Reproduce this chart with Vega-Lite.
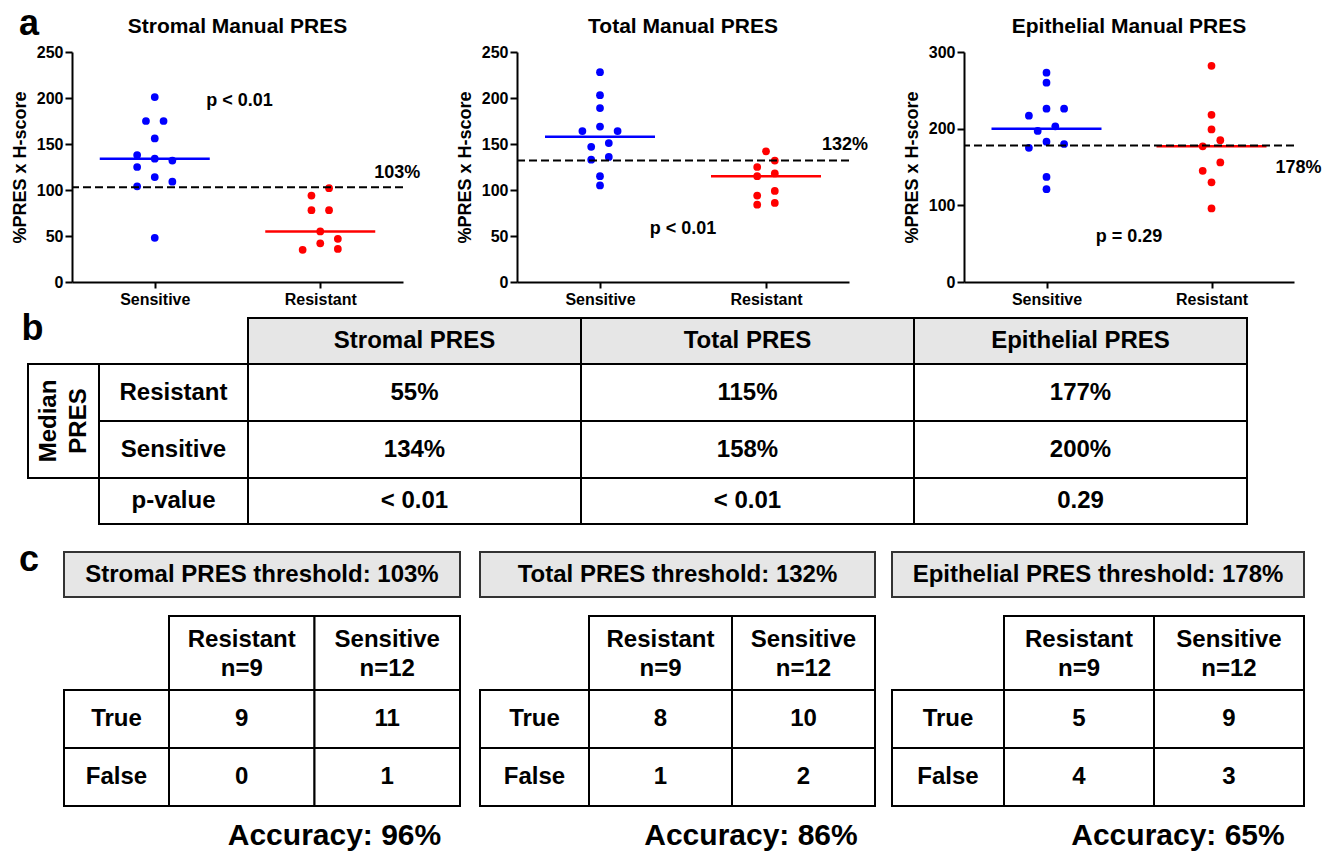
{
"$schema": "https://vega.github.io/schema/vega-lite/v6.json",
"padding": {"left": 11, "top": 6, "right": 0, "bottom": 0},
"config": {
  "font": "Liberation Sans",
  "view": {"stroke": null},
  "axis": {"grid": false, "domainColor": "black", "domainWidth": 2, "tickColor": "black", "tickWidth": 2, "labelColor": "black", "labelFontWeight": "bold", "labelFontSize": 16, "titleColor": "black", "titleFontWeight": "bold", "titleFontSize": 18, "labelFont": "Liberation Sans", "titleFont": "Liberation Sans"},
  "axisY": {"tickSize": 7, "labelPadding": 2, "titlePadding": 7},
  "axisX": {"tickSize": 6, "labelPadding": 3, "labelAngle": 0},
  "text": {"fontWeight": "bold", "color": "black", "font": "Liberation Sans"},
  "rect": {"width": {"band": 1}, "height": {"band": 1}}
},
"resolve": {"scale": {"xOffset": "independent"}},
"datasets": {
  "dots": [
    {"panel":"Stromal","group":"Sensitive","value":201,"lane":0},
    {"panel":"Stromal","group":"Sensitive","value":175,"lane":-1},
    {"panel":"Stromal","group":"Sensitive","value":175,"lane":1},
    {"panel":"Stromal","group":"Sensitive","value":156,"lane":0},
    {"panel":"Stromal","group":"Sensitive","value":138,"lane":-2},
    {"panel":"Stromal","group":"Sensitive","value":134,"lane":0},
    {"panel":"Stromal","group":"Sensitive","value":132,"lane":2},
    {"panel":"Stromal","group":"Sensitive","value":125,"lane":-2},
    {"panel":"Stromal","group":"Sensitive","value":114,"lane":0},
    {"panel":"Stromal","group":"Sensitive","value":109,"lane":2},
    {"panel":"Stromal","group":"Sensitive","value":104,"lane":-2},
    {"panel":"Stromal","group":"Sensitive","value":48,"lane":0},
    {"panel":"Stromal","group":"Resistant","value":102,"lane":1},
    {"panel":"Stromal","group":"Resistant","value":94,"lane":-1},
    {"panel":"Stromal","group":"Resistant","value":78,"lane":-1},
    {"panel":"Stromal","group":"Resistant","value":78,"lane":1},
    {"panel":"Stromal","group":"Resistant","value":55,"lane":0},
    {"panel":"Stromal","group":"Resistant","value":47,"lane":2},
    {"panel":"Stromal","group":"Resistant","value":42,"lane":0},
    {"panel":"Stromal","group":"Resistant","value":35,"lane":-2},
    {"panel":"Stromal","group":"Resistant","value":36,"lane":2},
    {"panel":"Total","group":"Sensitive","value":228,"lane":0},
    {"panel":"Total","group":"Sensitive","value":203,"lane":0},
    {"panel":"Total","group":"Sensitive","value":189,"lane":0},
    {"panel":"Total","group":"Sensitive","value":169,"lane":0},
    {"panel":"Total","group":"Sensitive","value":164,"lane":-2},
    {"panel":"Total","group":"Sensitive","value":164,"lane":2},
    {"panel":"Total","group":"Sensitive","value":151,"lane":1},
    {"panel":"Total","group":"Sensitive","value":147,"lane":-1},
    {"panel":"Total","group":"Sensitive","value":136,"lane":1},
    {"panel":"Total","group":"Sensitive","value":133,"lane":-1},
    {"panel":"Total","group":"Sensitive","value":115,"lane":0},
    {"panel":"Total","group":"Sensitive","value":105,"lane":0},
    {"panel":"Total","group":"Resistant","value":142,"lane":0},
    {"panel":"Total","group":"Resistant","value":132,"lane":1},
    {"panel":"Total","group":"Resistant","value":125,"lane":-1},
    {"panel":"Total","group":"Resistant","value":118,"lane":1},
    {"panel":"Total","group":"Resistant","value":115,"lane":-1},
    {"panel":"Total","group":"Resistant","value":99,"lane":1},
    {"panel":"Total","group":"Resistant","value":94,"lane":-1},
    {"panel":"Total","group":"Resistant","value":86,"lane":1},
    {"panel":"Total","group":"Resistant","value":84,"lane":-1},
    {"panel":"Epithelial","group":"Sensitive","value":273,"lane":0},
    {"panel":"Epithelial","group":"Sensitive","value":260,"lane":0},
    {"panel":"Epithelial","group":"Sensitive","value":226,"lane":0},
    {"panel":"Epithelial","group":"Sensitive","value":226,"lane":2},
    {"panel":"Epithelial","group":"Sensitive","value":217,"lane":-2},
    {"panel":"Epithelial","group":"Sensitive","value":203,"lane":1},
    {"panel":"Epithelial","group":"Sensitive","value":197,"lane":-1},
    {"panel":"Epithelial","group":"Sensitive","value":183,"lane":0},
    {"panel":"Epithelial","group":"Sensitive","value":180,"lane":2},
    {"panel":"Epithelial","group":"Sensitive","value":175,"lane":-2},
    {"panel":"Epithelial","group":"Sensitive","value":137,"lane":0},
    {"panel":"Epithelial","group":"Sensitive","value":121,"lane":0},
    {"panel":"Epithelial","group":"Resistant","value":282,"lane":0},
    {"panel":"Epithelial","group":"Resistant","value":218,"lane":0},
    {"panel":"Epithelial","group":"Resistant","value":199,"lane":0},
    {"panel":"Epithelial","group":"Resistant","value":185,"lane":1},
    {"panel":"Epithelial","group":"Resistant","value":177,"lane":-1},
    {"panel":"Epithelial","group":"Resistant","value":156,"lane":1},
    {"panel":"Epithelial","group":"Resistant","value":145,"lane":-1},
    {"panel":"Epithelial","group":"Resistant","value":130,"lane":0},
    {"panel":"Epithelial","group":"Resistant","value":96,"lane":0}
  ],
  "medians": [
    {"panel":"Stromal","group":"Sensitive","value":134},
    {"panel":"Stromal","group":"Resistant","value":55},
    {"panel":"Total","group":"Sensitive","value":158},
    {"panel":"Total","group":"Resistant","value":115},
    {"panel":"Epithelial","group":"Sensitive","value":200},
    {"panel":"Epithelial","group":"Resistant","value":177}
  ],
  "thresholds": [
    {"panel":"Stromal","value":103,"label":"103%"},
    {"panel":"Total","value":132,"label":"132%"},
    {"panel":"Epithelial","value":178,"label":"178%"}
  ],
  "pvalues": [
    {"panel":"Stromal","label":"p < 0.01"},
    {"panel":"Total","label":"p < 0.01"},
    {"panel":"Epithelial","label":"p = 0.29"}
  ]
},
"spacing": 0,
"bounds": "flush",
"vconcat": [
  {"hconcat": [
    {"width":18,"height":39,"data":{"values":[{"t":"a"}]},"mark":{"type":"text","fontSize":36,"baseline":"alphabetic","dy":2.5},"encoding":{"text":{"field":"t"}}},
    {"width":34,"height":39,"data":{"values":[]},"mark":"point"},
    {"width":331,"height":39,"data":{"values":[{"t":"Stromal Manual PRES"}]},"mark":{"type":"text","fontSize":21,"baseline":"alphabetic"},"encoding":{"text":{"field":"t"}}},
    {"width":114,"height":39,"data":{"values":[]},"mark":"point"},
    {"width":332,"height":39,"data":{"values":[{"t":"Total Manual PRES"}]},"mark":{"type":"text","fontSize":21,"baseline":"alphabetic"},"encoding":{"text":{"field":"t"}}},
    {"width":115,"height":39,"data":{"values":[]},"mark":"point"},
    {"width":330,"height":39,"data":{"values":[{"t":"Epithelial Manual PRES"}]},"mark":{"type":"text","fontSize":21,"baseline":"alphabetic"},"encoding":{"text":{"field":"t"}}}
  ], "spacing": 0, "bounds": "flush"},
  {"width":1,"height":39,"data":{"values":[]},"mark":"point"},

  {"hconcat": [
    {"width":52,"height":230,"data":{"values":[]},"mark":"point"},
    {"width":331,"height":230,
     "layer":[
      {"data":{"name":"dots"},"transform":[{"filter":"datum.panel === 'Stromal'"}],
       "mark":{"type":"circle","size":60,"opacity":1},
       "encoding":{
        "x":{"field":"group","type":"nominal","scale":{"type":"point","domain":["Sensitive","Resistant"],"padding":0.5},"axis":{"title":null,"labelAngle":0}},
        "xOffset":{"field":"lane","type":"quantitative","scale":{"domain":[-2,2],"range":[-17.6,17.6]}},
        "y":{"field":"value","type":"quantitative","scale":{"domain":[0,250],"nice":false},"axis":{"title":"%PRES x H-score","values":[0,50,100,150,200,250]}},
        "color":{"field":"group","type":"nominal","scale":{"domain":["Sensitive","Resistant"],"range":["#0000ff","#ff0000"]},"legend":null}}},
      {"data":{"name":"medians"},"transform":[{"filter":"datum.panel === 'Stromal'"}],
       "mark":{"type":"tick","size":110,"thickness":2.5,"opacity":1},
       "encoding":{"x":{"field":"group","type":"nominal"},"y":{"field":"value","type":"quantitative"},"color":{"field":"group","type":"nominal","legend":null}}},
      {"data":{"name":"thresholds"},"transform":[{"filter":"datum.panel === 'Stromal'"}],
       "mark":{"type":"rule","strokeDash":[8,4],"strokeWidth":2,"color":"black"},
       "encoding":{"y":{"field":"value","type":"quantitative"}}},
      {"data":{"name":"thresholds"},"transform":[{"filter":"datum.panel === 'Stromal'"}],
       "mark":{"type":"text","fontSize":18,"baseline":"alphabetic","dx":77,"dy":-9},
       "encoding":{"x":{"datum":"Resistant","type":"nominal"},"y":{"field":"value","type":"quantitative"},"text":{"field":"label"}}},
      {"data":{"name":"pvalues"},"transform":[{"filter":"datum.panel === 'Stromal'"}],
       "mark":{"type":"text","fontSize":18,"baseline":"alphabetic","dx":2},
       "encoding":{"y":{"datum":191,"type":"quantitative"},"text":{"field":"label"}}}
     ]},
    {"width":114,"height":230,"data":{"values":[]},"mark":"point"},
    {"width":332,"height":230,
     "layer":[
      {"data":{"name":"dots"},"transform":[{"filter":"datum.panel === 'Total'"}],
       "mark":{"type":"circle","size":60,"opacity":1},
       "encoding":{
        "x":{"field":"group","type":"nominal","scale":{"type":"point","domain":["Sensitive","Resistant"],"padding":0.5},"axis":{"title":null,"labelAngle":0}},
        "xOffset":{"field":"lane","type":"quantitative","scale":{"domain":[-2,2],"range":[-17.6,17.6]}},
        "y":{"field":"value","type":"quantitative","scale":{"domain":[0,250],"nice":false},"axis":{"title":"%PRES x H-score","values":[0,50,100,150,200,250]}},
        "color":{"field":"group","type":"nominal","scale":{"domain":["Sensitive","Resistant"],"range":["#0000ff","#ff0000"]},"legend":null}}},
      {"data":{"name":"medians"},"transform":[{"filter":"datum.panel === 'Total'"}],
       "mark":{"type":"tick","size":110,"thickness":2.5,"opacity":1},
       "encoding":{"x":{"field":"group","type":"nominal"},"y":{"field":"value","type":"quantitative"},"color":{"field":"group","type":"nominal","legend":null}}},
      {"data":{"name":"thresholds"},"transform":[{"filter":"datum.panel === 'Total'"}],
       "mark":{"type":"rule","strokeDash":[8,4],"strokeWidth":2,"color":"black"},
       "encoding":{"y":{"field":"value","type":"quantitative"}}},
      {"data":{"name":"thresholds"},"transform":[{"filter":"datum.panel === 'Total'"}],
       "mark":{"type":"text","fontSize":18,"baseline":"alphabetic","dx":79,"dy":-11},
       "encoding":{"x":{"datum":"Resistant","type":"nominal"},"y":{"field":"value","type":"quantitative"},"text":{"field":"label"}}},
      {"data":{"name":"pvalues"},"transform":[{"filter":"datum.panel === 'Total'"}],
       "mark":{"type":"text","fontSize":18,"baseline":"alphabetic"},
       "encoding":{"y":{"datum":52,"type":"quantitative"},"text":{"field":"label"}}}
     ]},
    {"width":115,"height":230,"data":{"values":[]},"mark":"point"},
    {"width":330,"height":230,
     "layer":[
      {"data":{"name":"dots"},"transform":[{"filter":"datum.panel === 'Epithelial'"}],
       "mark":{"type":"circle","size":60,"opacity":1},
       "encoding":{
        "x":{"field":"group","type":"nominal","scale":{"type":"point","domain":["Sensitive","Resistant"],"padding":0.5},"axis":{"title":null,"labelAngle":0}},
        "xOffset":{"field":"lane","type":"quantitative","scale":{"domain":[-2,2],"range":[-17.6,17.6]}},
        "y":{"field":"value","type":"quantitative","scale":{"domain":[0,300],"nice":false},"axis":{"title":"%PRES x H-score","values":[0,100,200,300]}},
        "color":{"field":"group","type":"nominal","scale":{"domain":["Sensitive","Resistant"],"range":["#0000ff","#ff0000"]},"legend":null}}},
      {"data":{"name":"medians"},"transform":[{"filter":"datum.panel === 'Epithelial'"}],
       "mark":{"type":"tick","size":110,"thickness":2.5,"opacity":1},
       "encoding":{"x":{"field":"group","type":"nominal"},"y":{"field":"value","type":"quantitative"},"color":{"field":"group","type":"nominal","legend":null}}},
      {"data":{"name":"thresholds"},"transform":[{"filter":"datum.panel === 'Epithelial'"}],
       "mark":{"type":"rule","strokeDash":[8,4],"strokeWidth":2,"color":"black"},
       "encoding":{"y":{"field":"value","type":"quantitative"}}},
      {"data":{"name":"thresholds"},"transform":[{"filter":"datum.panel === 'Epithelial'"}],
       "mark":{"type":"text","fontSize":18,"baseline":"alphabetic","dx":87,"dy":27},
       "encoding":{"x":{"datum":"Resistant","type":"nominal"},"y":{"field":"value","type":"quantitative"},"text":{"field":"label"}}},
      {"data":{"name":"pvalues"},"transform":[{"filter":"datum.panel === 'Epithelial'"}],
       "mark":{"type":"text","fontSize":18,"baseline":"alphabetic"},
       "encoding":{"y":{"datum":52,"type":"quantitative"},"text":{"field":"label"}}}
     ]}
  ], "spacing": 0, "bounds": "flush"},
  {"width":1,"height":266,"data":{"values":[]},"mark":"point"},

  {"hconcat": [
    {"width":25,"height":46,"data":{"values":[{"t":"b"}]},"mark":{"type":"text","fontSize":36,"baseline":"alphabetic","dy":-1},"encoding":{"text":{"field":"t"}}},
    {"width":203,"height":46,"data":{"values":[]},"mark":"point"},
    {"width":999,"height":46,
     "data":{"values":[{"row":"h","col":"Stromal PRES","text":"Stromal PRES"},{"row":"h","col":"Total PRES","text":"Total PRES"},{"row":"h","col":"Epithelial PRES","text":"Epithelial PRES"}]},
     "encoding":{"x":{"field":"col","type":"nominal","axis":null,"sort":null,"scale":{"type":"band","paddingInner":0,"paddingOuter":0}},"y":{"field":"row","type":"nominal","axis":null,"sort":null,"scale":{"type":"band","paddingInner":0,"paddingOuter":0}}},
     "layer":[{"mark":{"type":"rect","fill":"#e6e6e6","stroke":"black","strokeWidth":2}},{"mark":{"type":"text","fontSize":24},"encoding":{"text":{"field":"text"}}}]}
  ], "spacing": 0, "bounds": "flush"},
  {"width":1,"height":46,"data":{"values":[]},"mark":"point"},

  {"hconcat": [
    {"width":8,"height":114,"data":{"values":[]},"mark":"point"},
    {"width":71,"height":114,
     "data":{"values":[{"row":"m","col":"m","text":"Median\nPRES"}]},
     "encoding":{"x":{"field":"col","type":"nominal","axis":null,"sort":null,"scale":{"type":"band","paddingInner":0,"paddingOuter":0}},"y":{"field":"row","type":"nominal","axis":null,"sort":null,"scale":{"type":"band","paddingInner":0,"paddingOuter":0}}},
     "layer":[{"mark":{"type":"rect","fill":"white","stroke":"black","strokeWidth":2}},{"mark":{"type":"text","fontSize":24,"angle":270,"lineBreak":"\n","lineHeight":30,"dy":-15},"encoding":{"text":{"field":"text"}}}]},
    {"width":149,"height":114,
     "data":{"values":[{"row":"Resistant","col":"l","text":"Resistant"},{"row":"Sensitive","col":"l","text":"Sensitive"}]},
     "encoding":{"x":{"field":"col","type":"nominal","axis":null,"sort":null,"scale":{"type":"band","paddingInner":0,"paddingOuter":0}},"y":{"field":"row","type":"nominal","axis":null,"sort":null,"scale":{"type":"band","paddingInner":0,"paddingOuter":0}}},
     "layer":[{"mark":{"type":"rect","fill":"white","stroke":"black","strokeWidth":2}},{"mark":{"type":"text","fontSize":24},"encoding":{"text":{"field":"text"}}}]},
    {"width":999,"height":114,
     "data":{"values":[{"row":"Resistant","col":"Stromal PRES","text":"55%"},{"row":"Resistant","col":"Total PRES","text":"115%"},{"row":"Resistant","col":"Epithelial PRES","text":"177%"},{"row":"Sensitive","col":"Stromal PRES","text":"134%"},{"row":"Sensitive","col":"Total PRES","text":"158%"},{"row":"Sensitive","col":"Epithelial PRES","text":"200%"}]},
     "encoding":{"x":{"field":"col","type":"nominal","axis":null,"sort":null,"scale":{"type":"band","paddingInner":0,"paddingOuter":0}},"y":{"field":"row","type":"nominal","axis":null,"sort":null,"scale":{"type":"band","paddingInner":0,"paddingOuter":0}}},
     "layer":[{"mark":{"type":"rect","fill":"white","stroke":"black","strokeWidth":2}},{"mark":{"type":"text","fontSize":24},"encoding":{"text":{"field":"text"}}}]}
  ], "spacing": 0, "bounds": "flush"},
  {"width":1,"height":114,"data":{"values":[]},"mark":"point"},

  {"hconcat": [
    {"width":79,"height":46,"data":{"values":[]},"mark":"point"},
    {"width":149,"height":46,
     "data":{"values":[{"row":"p","col":"l","text":"p-value"}]},
     "encoding":{"x":{"field":"col","type":"nominal","axis":null,"sort":null,"scale":{"type":"band","paddingInner":0,"paddingOuter":0}},"y":{"field":"row","type":"nominal","axis":null,"sort":null,"scale":{"type":"band","paddingInner":0,"paddingOuter":0}}},
     "layer":[{"mark":{"type":"rect","fill":"white","stroke":"black","strokeWidth":2}},{"mark":{"type":"text","fontSize":24},"encoding":{"text":{"field":"text"}}}]},
    {"width":999,"height":46,
     "data":{"values":[{"row":"p","col":"Stromal PRES","text":"< 0.01"},{"row":"p","col":"Total PRES","text":"< 0.01"},{"row":"p","col":"Epithelial PRES","text":"0.29"}]},
     "encoding":{"x":{"field":"col","type":"nominal","axis":null,"sort":null,"scale":{"type":"band","paddingInner":0,"paddingOuter":0}},"y":{"field":"row","type":"nominal","axis":null,"sort":null,"scale":{"type":"band","paddingInner":0,"paddingOuter":0}}},
     "layer":[{"mark":{"type":"rect","fill":"white","stroke":"black","strokeWidth":2}},{"mark":{"type":"text","fontSize":24},"encoding":{"text":{"field":"text"}}}]}
  ], "spacing": 0, "bounds": "flush"},
  {"width":1,"height":74,"data":{"values":[]},"mark":"point"},

  {"hconcat": [
    {"width":18,"height":45,"data":{"values":[{"t":"c"}]},"mark":{"type":"text","fontSize":36,"baseline":"alphabetic","dy":-3.5},"encoding":{"text":{"field":"t"}}},
    {"width":26,"height":45,"data":{"values":[]},"mark":"point"},
    {"width":396,"height":45,
     "data":{"values":[{"row":"t","col":"t","text":"Stromal PRES threshold: 103%"}]},
     "encoding":{"x":{"field":"col","type":"nominal","axis":null,"sort":null,"scale":{"type":"band","paddingInner":0,"paddingOuter":0}},"y":{"field":"row","type":"nominal","axis":null,"sort":null,"scale":{"type":"band","paddingInner":0,"paddingOuter":0}}},
     "layer":[{"mark":{"type":"rect","fill":"#e6e6e6","stroke":"#333333","strokeWidth":2}},{"mark":{"type":"text","fontSize":24},"encoding":{"text":{"field":"text"}}}]},
    {"width":20,"height":45,"data":{"values":[]},"mark":"point"},
    {"width":395,"height":45,
     "data":{"values":[{"row":"t","col":"t","text":"Total PRES threshold: 132%"}]},
     "encoding":{"x":{"field":"col","type":"nominal","axis":null,"sort":null,"scale":{"type":"band","paddingInner":0,"paddingOuter":0}},"y":{"field":"row","type":"nominal","axis":null,"sort":null,"scale":{"type":"band","paddingInner":0,"paddingOuter":0}}},
     "layer":[{"mark":{"type":"rect","fill":"#e6e6e6","stroke":"#333333","strokeWidth":2}},{"mark":{"type":"text","fontSize":24},"encoding":{"text":{"field":"text"}}}]},
    {"width":17,"height":45,"data":{"values":[]},"mark":"point"},
    {"width":412,"height":45,
     "data":{"values":[{"row":"t","col":"t","text":"Epithelial PRES threshold: 178%"}]},
     "encoding":{"x":{"field":"col","type":"nominal","axis":null,"sort":null,"scale":{"type":"band","paddingInner":0,"paddingOuter":0}},"y":{"field":"row","type":"nominal","axis":null,"sort":null,"scale":{"type":"band","paddingInner":0,"paddingOuter":0}}},
     "layer":[{"mark":{"type":"rect","fill":"#e6e6e6","stroke":"#333333","strokeWidth":2}},{"mark":{"type":"text","fontSize":24},"encoding":{"text":{"field":"text"}}}]}
  ], "spacing": 0, "bounds": "flush"},
  {"width":1,"height":64,"data":{"values":[]},"mark":"point"},

  {"hconcat": [
    {"width":149,"height":74,"data":{"values":[]},"mark":"point"},
    {"width":291,"height":74,
     "data":{"values":[{"row":"h","col":"Resistant","text":"Resistant\nn=9"},{"row":"h","col":"Sensitive","text":"Sensitive\nn=12"}]},
     "encoding":{"x":{"field":"col","type":"nominal","axis":null,"sort":null,"scale":{"type":"band","paddingInner":0,"paddingOuter":0}},"y":{"field":"row","type":"nominal","axis":null,"sort":null,"scale":{"type":"band","paddingInner":0,"paddingOuter":0}}},
     "layer":[{"mark":{"type":"rect","fill":"white","stroke":"black","strokeWidth":2}},{"mark":{"type":"text","fontSize":24,"lineBreak":"\n","lineHeight":29,"dy":-13},"encoding":{"text":{"field":"text"}}}]},
    {"width":129,"height":74,"data":{"values":[]},"mark":"point"},
    {"width":286,"height":74,
     "data":{"values":[{"row":"h","col":"Resistant","text":"Resistant\nn=9"},{"row":"h","col":"Sensitive","text":"Sensitive\nn=12"}]},
     "encoding":{"x":{"field":"col","type":"nominal","axis":null,"sort":null,"scale":{"type":"band","paddingInner":0,"paddingOuter":0}},"y":{"field":"row","type":"nominal","axis":null,"sort":null,"scale":{"type":"band","paddingInner":0,"paddingOuter":0}}},
     "layer":[{"mark":{"type":"rect","fill":"white","stroke":"black","strokeWidth":2}},{"mark":{"type":"text","fontSize":24,"lineBreak":"\n","lineHeight":29,"dy":-13},"encoding":{"text":{"field":"text"}}}]},
    {"width":129,"height":74,"data":{"values":[]},"mark":"point"},
    {"width":300,"height":74,
     "data":{"values":[{"row":"h","col":"Resistant","text":"Resistant\nn=9"},{"row":"h","col":"Sensitive","text":"Sensitive\nn=12"}]},
     "encoding":{"x":{"field":"col","type":"nominal","axis":null,"sort":null,"scale":{"type":"band","paddingInner":0,"paddingOuter":0}},"y":{"field":"row","type":"nominal","axis":null,"sort":null,"scale":{"type":"band","paddingInner":0,"paddingOuter":0}}},
     "layer":[{"mark":{"type":"rect","fill":"white","stroke":"black","strokeWidth":2}},{"mark":{"type":"text","fontSize":24,"lineBreak":"\n","lineHeight":29,"dy":-13},"encoding":{"text":{"field":"text"}}}]}
  ], "spacing": 0, "bounds": "flush"},
  {"width":1,"height":74,"data":{"values":[]},"mark":"point"},

  {"hconcat": [
    {"width":44,"height":116,"data":{"values":[]},"mark":"point"},
    {"width":105,"height":116,
     "data":{"values":[{"row":"True","col":"l","text":"True"},{"row":"False","col":"l","text":"False"}]},
     "encoding":{"x":{"field":"col","type":"nominal","axis":null,"sort":null,"scale":{"type":"band","paddingInner":0,"paddingOuter":0}},"y":{"field":"row","type":"nominal","axis":null,"sort":null,"scale":{"type":"band","paddingInner":0,"paddingOuter":0}}},
     "layer":[{"mark":{"type":"rect","fill":"white","stroke":"black","strokeWidth":2}},{"mark":{"type":"text","fontSize":24},"encoding":{"text":{"field":"text"}}}]},
    {"width":291,"height":116,
     "data":{"values":[{"row":"True","col":"Resistant","text":"9"},{"row":"True","col":"Sensitive","text":"11"},{"row":"False","col":"Resistant","text":"0"},{"row":"False","col":"Sensitive","text":"1"}]},
     "encoding":{"x":{"field":"col","type":"nominal","axis":null,"sort":null,"scale":{"type":"band","paddingInner":0,"paddingOuter":0}},"y":{"field":"row","type":"nominal","axis":null,"sort":null,"scale":{"type":"band","paddingInner":0,"paddingOuter":0}}},
     "layer":[{"mark":{"type":"rect","fill":"white","stroke":"black","strokeWidth":2}},{"mark":{"type":"text","fontSize":24},"encoding":{"text":{"field":"text"}}}]},
    {"width":20,"height":116,"data":{"values":[]},"mark":"point"},
    {"width":109,"height":116,
     "data":{"values":[{"row":"True","col":"l","text":"True"},{"row":"False","col":"l","text":"False"}]},
     "encoding":{"x":{"field":"col","type":"nominal","axis":null,"sort":null,"scale":{"type":"band","paddingInner":0,"paddingOuter":0}},"y":{"field":"row","type":"nominal","axis":null,"sort":null,"scale":{"type":"band","paddingInner":0,"paddingOuter":0}}},
     "layer":[{"mark":{"type":"rect","fill":"white","stroke":"black","strokeWidth":2}},{"mark":{"type":"text","fontSize":24},"encoding":{"text":{"field":"text"}}}]},
    {"width":286,"height":116,
     "data":{"values":[{"row":"True","col":"Resistant","text":"8"},{"row":"True","col":"Sensitive","text":"10"},{"row":"False","col":"Resistant","text":"1"},{"row":"False","col":"Sensitive","text":"2"}]},
     "encoding":{"x":{"field":"col","type":"nominal","axis":null,"sort":null,"scale":{"type":"band","paddingInner":0,"paddingOuter":0}},"y":{"field":"row","type":"nominal","axis":null,"sort":null,"scale":{"type":"band","paddingInner":0,"paddingOuter":0}}},
     "layer":[{"mark":{"type":"rect","fill":"white","stroke":"black","strokeWidth":2}},{"mark":{"type":"text","fontSize":24},"encoding":{"text":{"field":"text"}}}]},
    {"width":17,"height":116,"data":{"values":[]},"mark":"point"},
    {"width":112,"height":116,
     "data":{"values":[{"row":"True","col":"l","text":"True"},{"row":"False","col":"l","text":"False"}]},
     "encoding":{"x":{"field":"col","type":"nominal","axis":null,"sort":null,"scale":{"type":"band","paddingInner":0,"paddingOuter":0}},"y":{"field":"row","type":"nominal","axis":null,"sort":null,"scale":{"type":"band","paddingInner":0,"paddingOuter":0}}},
     "layer":[{"mark":{"type":"rect","fill":"white","stroke":"black","strokeWidth":2}},{"mark":{"type":"text","fontSize":24},"encoding":{"text":{"field":"text"}}}]},
    {"width":300,"height":116,
     "data":{"values":[{"row":"True","col":"Resistant","text":"5"},{"row":"True","col":"Sensitive","text":"9"},{"row":"False","col":"Resistant","text":"4"},{"row":"False","col":"Sensitive","text":"3"}]},
     "encoding":{"x":{"field":"col","type":"nominal","axis":null,"sort":null,"scale":{"type":"band","paddingInner":0,"paddingOuter":0}},"y":{"field":"row","type":"nominal","axis":null,"sort":null,"scale":{"type":"band","paddingInner":0,"paddingOuter":0}}},
     "layer":[{"mark":{"type":"rect","fill":"white","stroke":"black","strokeWidth":2}},{"mark":{"type":"text","fontSize":24},"encoding":{"text":{"field":"text"}}}]}
  ], "spacing": 0, "bounds": "flush"},
  {"width":1,"height":116,"data":{"values":[]},"mark":"point"},

  {"hconcat": [
    {"width":149,"height":42,"data":{"values":[]},"mark":"point"},
    {"width":291,"height":42,"data":{"values":[{"t":"Accuracy: 96%"}]},"mark":{"type":"text","fontSize":30,"baseline":"alphabetic","dx":20,"dy":18},"encoding":{"text":{"field":"t"}}},
    {"width":129,"height":42,"data":{"values":[]},"mark":"point"},
    {"width":286,"height":42,"data":{"values":[{"t":"Accuracy: 86%"}]},"mark":{"type":"text","fontSize":30,"baseline":"alphabetic","dx":19,"dy":18},"encoding":{"text":{"field":"t"}}},
    {"width":129,"height":42,"data":{"values":[]},"mark":"point"},
    {"width":300,"height":42,"data":{"values":[{"t":"Accuracy: 65%"}]},"mark":{"type":"text","fontSize":30,"baseline":"alphabetic","dx":24,"dy":18},"encoding":{"text":{"field":"t"}}}
  ], "spacing": 0, "bounds": "flush"}
]
}
